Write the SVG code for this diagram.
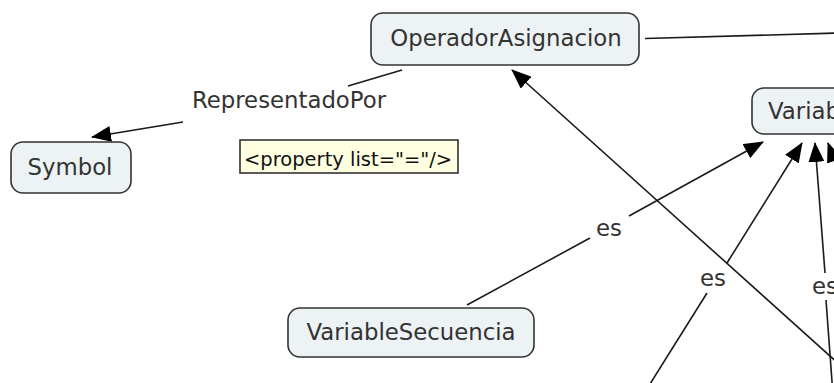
<svg xmlns="http://www.w3.org/2000/svg" width="834" height="383" viewBox="0 0 834 383">
<style>
.node rect{fill:#edf2f5;stroke:#333;stroke-width:1.6}
.node text,.lbl{font-family:"DejaVu Sans",Verdana,sans-serif;font-size:22.8px;fill:#333;text-anchor:middle}
.ln{stroke:#1a1a1a;stroke-width:1.6;fill:none}
.tip rect{fill:#ffffe1;stroke:#333;stroke-width:1.6}
.tip text{font-family:"DejaVu Sans",Tahoma,sans-serif;font-size:19.5px;fill:#111}
</style>
<defs>
<marker id="ah" viewBox="0 0 20 16" refX="19" refY="8" markerWidth="20" markerHeight="16" markerUnits="userSpaceOnUse" orient="auto">
<path d="M0,0 L20,8 L0,16 z" fill="#000"/>
</marker>
</defs>
<rect width="834" height="383" fill="#fff"/>
<g id="connectors">
<line class="ln" x1="645" y1="38.5" x2="840" y2="33"/>
<line class="ln" x1="402" y1="70" x2="348" y2="86"/>
<text class="lbl" x="289" y="108">RepresentadoPor</text>
<line class="ln" x1="183" y1="122" x2="92" y2="137" marker-end="url(#ah)"/>
<line class="ln" x1="467" y1="305" x2="590" y2="238"/>
<text class="lbl" x="609" y="236">es</text>
<line class="ln" x1="629" y1="216" x2="763" y2="142" marker-end="url(#ah)"/>
<line class="ln" x1="850" y1="374" x2="512" y2="70" marker-end="url(#ah)"/>
<line class="ln" x1="645" y1="392" x2="707" y2="293"/>
<text class="lbl" x="713" y="286">es</text>
<line class="ln" x1="727" y1="263" x2="802" y2="143" marker-end="url(#ah)"/>
<line class="ln" x1="833" y1="395" x2="826" y2="300"/>
<text class="lbl" x="825" y="294">es</text>
<line class="ln" x1="825" y1="273" x2="815" y2="143" marker-end="url(#ah)"/>
<line class="ln" x1="860" y1="230" x2="828" y2="143" marker-end="url(#ah)"/>
</g>
<g id="OperadorAsignacion" class="node">
<rect x="371" y="13" width="268" height="52" rx="12"/>
<text x="506" y="46">OperadorAsignacion</text>
</g>
<g id="Symbol" class="node">
<rect x="11" y="142" width="120" height="51" rx="12"/>
<text x="70" y="175">Symbol</text>
</g>
<g id="VariableSecuencia" class="node">
<rect x="288" y="308" width="246" height="49" rx="12"/>
<text x="411" y="340">VariableSecuencia</text>
</g>
<g id="Variable" class="node">
<rect x="752" y="88" width="160" height="46" rx="12"/>
<text x="768" y="119" style="text-anchor:start">Variable</text>
</g>
<g id="property" class="tip">
<rect x="240" y="140" width="218" height="33"/>
<text x="244" y="166">&lt;property list="="/&gt;</text>
</g>
</svg>
